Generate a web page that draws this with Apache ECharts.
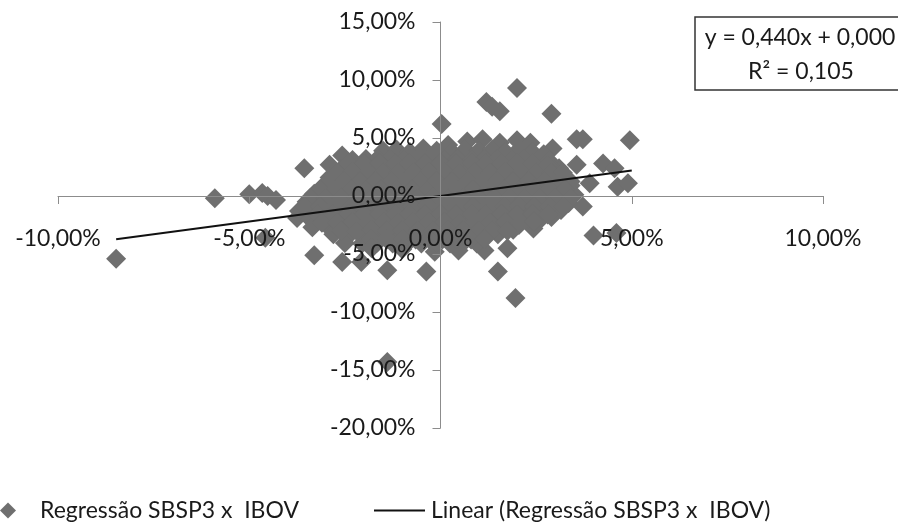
<!DOCTYPE html>
<html><head><meta charset="utf-8">
<style>html,body{margin:0;padding:0;background:#fff}#c{width:898px;height:522px}</style>
<script src="https://cdn.jsdelivr.net/npm/echarts@6/dist/echarts.min.js"></script>
</head><body><div id="c"></div>
<script>
const seriesName = 'Regressão SBSP3 x  IBOV';
const trendName = 'Linear (Regressão SBSP3 x  IBOV)';
const equationLines = ['y = 0,440x + 0,000', 'R² = 0,105'];
const outlierPoints = [
[-8.48,-5.4],[-5.9,-0.2],[-5.0,0.15],[-4.66,0.25],[-4.52,0.0],[-4.3,-0.35],[-4.58,-3.6],[-3.56,2.4],
[-3.3,-5.1],[-2.57,-5.7],[-2.07,-5.7],[-1.39,-6.4],[-0.37,-6.5],[-1.39,-14.3],[1.96,-8.8],[1.5,-6.5],
[1.75,-4.5],[1.15,-4.7],[0.47,-4.7],[-0.15,-4.8],[2.43,-2.8],[1.9,-2.9],[3.72,-0.9],[4.0,-3.4],[4.6,-3.2],
[4.95,4.8],[2.0,9.3],[1.2,8.1],[1.35,7.7],[1.55,7.3],[2.9,7.1],[0.03,6.2],[3.56,4.9],[3.72,4.9],
[3.56,2.7],[4.25,2.8],[4.55,2.4],[4.63,0.8],[4.9,1.1],[3.9,1.1],[2.93,4.1],[3.1,2.4],[-2.57,3.5],[-2.9,2.7]
];
const clusterTop = [
[0.2,4.4],[0.7,4.7],[1.1,4.9],[1.55,4.6],[2.0,4.8],[2.35,4.6],
[-1.5,3.9],[-1.15,4.0],[-0.8,3.8],[-0.45,4.1],[-0.1,3.9],[0.3,3.8],[0.65,4.0],[1.0,3.9],[1.35,4.0],[1.7,3.8],[2.05,4.0],[2.4,3.8],[2.7,3.6],
[-2.3,3.1],[-1.95,3.2],[-1.65,3.2],[-1.3,3.2],[-0.95,3.1],[-0.6,3.2],[-0.25,3.2],[0.1,3.1],[0.45,3.2],[0.8,3.1],[1.15,3.2],[1.5,3.2],[1.85,3.1],[2.2,3.2],[2.55,3.1],[2.85,3.0]
];
const clusterUpper = [
[-2.6,2.3],[-2.2,2.4],[-1.85,2.4],[-1.5,2.5],[-1.15,2.4],[-0.8,2.5],[-0.45,2.4],[-0.1,2.5],[0.25,2.4],[0.6,2.4],[0.95,2.5],[1.3,2.4],[1.65,2.5],[2.0,2.4],[2.35,2.4],[2.7,2.3],[3.0,2.2],
[-2.9,1.6],[-2.55,1.7],[-2.05,1.6],[-1.7,1.7],[-1.3,1.6],[-0.95,1.7],[-0.6,1.7],[-0.25,1.6],[0.1,1.7],[0.45,1.6],[0.8,1.7],[1.15,1.6],[1.5,1.7],[1.85,1.6],[2.2,1.7],[2.55,1.6],[2.9,1.7],[3.25,1.6],
[-3.05,0.9],[-2.7,0.9],[-2.3,0.8],[-1.9,0.9],[-1.5,0.9],[-1.15,0.8],[-0.8,0.9],[-0.45,0.9],[-0.1,0.8],[0.25,0.9],[0.6,0.9],[0.95,0.8],[1.3,0.9],[1.65,0.9],[2.0,0.8],[2.35,0.9],[2.7,0.9],[3.05,0.8],[3.4,0.9],
[-3.3,0.2],[-2.95,0.1],[-2.55,0.2],[-2.15,0.1],[-1.75,0.2],[-1.35,0.1],[-1.0,0.2],[-0.65,0.1],[-0.3,0.2],[0.05,0.1],[0.4,0.2],[0.75,0.1],[1.1,0.2],[1.45,0.1],[1.8,0.2],[2.15,0.1],[2.5,0.2],[2.85,0.1],[3.2,0.2],[3.5,0.1]
];
const clusterLower = [
[-3.5,-0.5],[-3.15,-0.6],[-2.8,-0.5],[-2.4,-0.6],[-2.0,-0.5],[-1.6,-0.6],[-1.2,-0.5],[-0.85,-0.6],[-0.5,-0.5],[-0.15,-0.6],[0.2,-0.5],[0.55,-0.6],[0.9,-0.5],[1.25,-0.6],[1.6,-0.5],[1.95,-0.6],[2.3,-0.5],[2.65,-0.6],[3.0,-0.5],[3.35,-0.6],
[-3.7,-1.3],[-3.35,-1.2],[-2.95,-1.3],[-2.6,-1.2],[-2.2,-1.3],[-1.8,-1.2],[-1.4,-1.3],[-1.05,-1.2],[-0.7,-1.3],[-0.35,-1.2],[0.0,-1.3],[0.35,-1.2],[0.7,-1.3],[1.05,-1.2],[1.4,-1.3],[1.75,-1.2],[2.1,-1.3],[2.45,-1.2],[2.8,-1.3],[3.15,-1.2],
[-3.75,-1.9],[-3.4,-2.0],[-3.05,-1.9],[-2.7,-2.0],[-2.3,-1.9],[-1.95,-2.0],[-1.55,-1.9],[-1.2,-2.0],[-0.85,-1.9],[-0.5,-2.0],[-0.15,-1.9],[0.2,-2.0],[0.55,-1.9],[0.9,-2.0],[1.25,-1.9],[1.6,-2.0],[1.95,-1.9],[2.3,-2.0],[2.65,-1.9],[2.9,-1.8],
[-3.35,-2.7],[-2.95,-2.6],[-2.55,-2.7],[-2.15,-2.6],[-1.75,-2.7],[-1.4,-2.6],[-1.05,-2.7],[-0.7,-2.6],[-0.35,-2.7],[0.0,-2.6],[0.35,-2.7],[0.7,-2.6],[1.05,-2.7],[1.4,-2.6],[1.7,-2.7],[2.05,-2.5],
[-2.8,-3.3],[-2.4,-3.4],[-2.0,-3.3],[-1.6,-3.4],[-1.25,-3.3],[-0.9,-3.4],[-0.55,-3.3],[-0.2,-3.4],[0.15,-3.3],[0.5,-3.4],[0.85,-3.3],[1.2,-3.4],[1.5,-3.3],
[-2.5,-4.05],[-2.05,-4.1],[-1.65,-4.0],[-1.25,-4.1],[-0.85,-4.0],[-0.5,-4.1],[-0.1,-4.0],[0.25,-4.1],[0.6,-4.0],[0.95,-4.1]
];
const clusterFill = [
[-2.4,2.8],[-2.0,2.8],[-1.6,2.85],[-1.2,2.8],[-0.8,2.85],[-0.4,2.8],[0.0,2.85],[0.4,2.8],[0.8,2.85],[1.2,2.8],[1.6,2.8],[2.0,2.85],[2.4,2.8],[2.8,2.7],
[-2.7,2.0],[-2.3,2.05],[-1.9,2.0],[-1.5,2.05],[-1.1,2.0],[-0.7,2.05],[-0.3,2.0],[0.1,2.05],[0.5,2.0],[0.9,2.05],[1.3,2.0],[1.7,2.05],[2.1,2.0],[2.5,2.05],[2.9,2.0],[3.2,2.0],
[-2.9,1.25],[-2.5,1.3],[-2.1,1.25],[-1.7,1.3],[-1.3,1.25],[-0.9,1.3],[-0.5,1.25],[-0.1,1.3],[0.3,1.25],[0.7,1.3],[1.1,1.25],[1.5,1.3],[1.9,1.25],[2.3,1.3],[2.7,1.25],[3.1,1.3],[3.4,1.25],
[-3.15,0.55],[-2.75,0.5],[-2.35,0.55],[-1.95,0.5],[-1.55,0.55],[-1.15,0.5],[-0.75,0.55],[-0.35,0.5],[0.05,0.55],[0.45,0.5],[0.85,0.55],[1.25,0.5],[1.65,0.55],[2.05,0.5],[2.45,0.55],[2.85,0.5],[3.25,0.55],
[-3.4,-0.15],[-3.0,-0.2],[-2.6,-0.15],[-2.2,-0.2],[-1.8,-0.15],[-1.4,-0.2],[-1.0,-0.15],[-0.6,-0.2],[-0.2,-0.15],[0.2,-0.2],[0.6,-0.15],[1.0,-0.2],[1.4,-0.15],[1.8,-0.2],[2.2,-0.15],[2.6,-0.2],[3.0,-0.15],[3.4,-0.2],
[-3.55,-0.9],[-3.15,-0.9],[-2.75,-0.85],[-2.35,-0.9],[-1.95,-0.85],[-1.55,-0.9],[-1.15,-0.85],[-0.75,-0.9],[-0.35,-0.85],[0.05,-0.9],[0.45,-0.85],[0.85,-0.9],[1.25,-0.85],[1.65,-0.9],[2.05,-0.85],[2.45,-0.9],[2.85,-0.85],[3.2,-0.9],
[-3.2,-1.6],[-2.8,-1.6],[-2.4,-1.55],[-2.0,-1.6],[-1.6,-1.55],[-1.2,-1.6],[-0.8,-1.55],[-0.4,-1.6],[0.0,-1.55],[0.4,-1.6],[0.8,-1.55],[1.2,-1.6],[1.6,-1.55],[2.0,-1.6],[2.4,-1.55],[2.8,-1.6],
[-3.1,-2.3],[-2.7,-2.3],[-2.3,-2.25],[-1.9,-2.3],[-1.5,-2.25],[-1.1,-2.3],[-0.7,-2.25],[-0.3,-2.3],[0.1,-2.25],[0.5,-2.3],[0.9,-2.25],[1.3,-2.3],[1.7,-2.25],[2.1,-2.3],[2.45,-2.2],
[-2.6,-3.0],[-2.2,-3.0],[-1.8,-2.95],[-1.4,-3.0],[-1.0,-2.95],[-0.6,-3.0],[-0.2,-2.95],[0.2,-3.0],[0.6,-2.95],[1.0,-3.0],[1.35,-2.95],[1.75,-3.0],
[-1.8,-3.7],[-1.4,-3.75],[-1.0,-3.7],[-0.65,-3.75],[-0.3,-3.7],[0.05,-3.75],[0.4,-3.7],[0.8,-3.75],[1.15,-3.7],
[-1.8,-4.5],[-1.0,-4.6]
];
const trendX = [-8.48, 5];
const trendY = [-3.73, 2.2];
const axisFont = 'Lato';
const fmt = v => v.toFixed(2).replace('.', ',') + '%';
const scatterData = outlierPoints.concat(clusterTop, clusterUpper, clusterLower, clusterFill);
const chart = echarts.init(document.getElementById('c'), null, {renderer:'canvas'});
const axisCommon = {
  type:'value', splitLine:{show:false}, z:10,
  axisLine:{show:true,onZero:false,lineStyle:{color:'#8c8c8c',width:1}},
  axisTick:{show:true,length:8,lineStyle:{color:'#8c8c8c'}},
  axisLabel:{formatter:fmt,color:'#1a1a1a',fontFamily:axisFont,fontSize:23,showMinLabel:true,showMaxLabel:true,hideOverlap:false}
};
chart.setOption({
  animation:false, backgroundColor:'#fff',
  grid:{left:58,right:75,top:22,bottom:94,containLabel:false,outerBoundsMode:'none'},
  xAxis:Object.assign({},axisCommon,{position:'bottom',offset:-232,min:-10,max:10,interval:5,
    axisLabel:Object.assign({},axisCommon.axisLabel,{margin:31})}),
  yAxis:Object.assign({},axisCommon,{position:'left',offset:-382.5,min:-20,max:15,interval:5,
    axisLabel:Object.assign({},axisCommon.axisLabel,{margin:25})}),
  legend:[
    {left:0,top:499,padding:[0,0,0,0],itemWidth:16,itemHeight:16,icon:'diamond',data:[seriesName],
     textStyle:{fontFamily:axisFont,fontSize:23,color:'#1a1a1a',padding:[0,0,0,19]}},
    {left:374,top:499,padding:[0,0,0,0],itemWidth:51,itemHeight:2,data:[{name:trendName,icon:'path://M0 0H51V2H0Z'}],
     textStyle:{fontFamily:axisFont,fontSize:23,color:'#1a1a1a',padding:[0,0,0,1]}}
  ],
  series:[
    {name:seriesName,type:'scatter',symbol:'diamond',symbolSize:20,z:2,
     itemStyle:{color:'#6f6f6f',opacity:1},data:scatterData},
    {name:trendName,type:'line',symbol:'none',z:3,
     lineStyle:{color:'#111',width:2},itemStyle:{color:'#111'},
     data:trendX.map((x,i)=>[x,trendY[i]])}
  ],
  graphic:[
    {type:'rect',z:20,shape:{x:695,y:17,width:210,height:73},style:{fill:'#fff',stroke:'#333',lineWidth:1.5}},
    {type:'text',z:21,x:800,y:38,style:{text:equationLines[0],align:'center',verticalAlign:'middle',font:'23px Lato',fill:'#1a1a1a'}},
    {type:'text',z:21,x:801,y:72,style:{text:equationLines[1],align:'center',verticalAlign:'middle',font:'23px Lato',fill:'#1a1a1a'}}
  ]
});
</script></body></html>
